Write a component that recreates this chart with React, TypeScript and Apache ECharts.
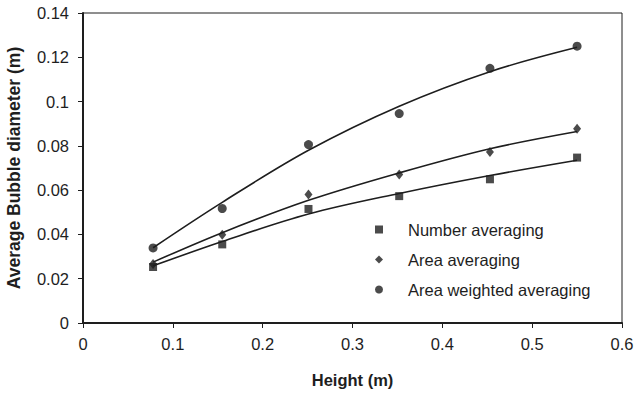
import React, { useEffect, useRef } from "react";
import * as echarts from "echarts";

const heights = [0.078, 0.155, 0.251, 0.352, 0.453, 0.55];
const numberAvg = [0.0253, 0.0355, 0.0515, 0.0573, 0.0649, 0.0747];
const areaAvg = [0.0266, 0.0399, 0.058, 0.0671, 0.0772, 0.0877];
const areaWeightedAvg = [0.0339, 0.0517, 0.0806, 0.0946, 0.115, 0.125];

// trend curves
const numberTrend = [0.0258, 0.0368, 0.0492, 0.0585, 0.0666, 0.0735];
const areaTrend = [0.0275, 0.0408, 0.0554, 0.0678, 0.0787, 0.0865];
const weightedTrend = [0.034, 0.0545, 0.078, 0.0979, 0.1135, 0.1245];

const xTicks = [0, 0.1, 0.2, 0.3, 0.4, 0.5, 0.6];
const yTicks = [0, 0.02, 0.04, 0.06, 0.08, 0.1, 0.12, 0.14];

const seriesNames = ["Number averaging", "Area averaging", "Area weighted averaging"];

const pairs = (xs: number[], ys: number[]) => xs.map((x, i) => [x, ys[i]]);

const FONT = "Liberation Sans, Arial, sans-serif";
const INK = "#1e1e1e";

export default function App() {
  const ref = useRef<HTMLDivElement>(null);
  useEffect(() => {
    if (!ref.current) return;
    const chart = echarts.init(ref.current, undefined, { renderer: "svg" });
    const lineStyle = { color: INK, width: 1.6 };
    const trend = (ys: number[]) => ({
      type: "line",
      data: pairs(heights, ys),
      smooth: 0.35,
      showSymbol: false,
      symbol: "none",
      lineStyle,
      silent: true,
      z: 2,
    });
    chart.setOption({
      animation: false,
      backgroundColor: "#fff",
      textStyle: { fontFamily: FONT },
      grid: {
        left: 83,
        right: 13,
        top: 13,
        bottom: 72,
        show: true,
        borderColor: INK,
        borderWidth: 1,
        containLabel: false,
        outerBoundsMode: "none",
      },
      legend: {
        orient: "vertical",
        left: 370,
        top: 216,
        itemWidth: 8,
        itemHeight: 8,
        itemGap: 13,
        textStyle: { fontFamily: FONT, fontSize: 16.5, color: INK, padding: [0, 0, 0, 20] },
        data: [
          { name: seriesNames[0], icon: "rect" },
          { name: seriesNames[1], icon: "diamond" },
          { name: seriesNames[2], icon: "circle" },
        ],
      },
      xAxis: {
        type: "value",
        min: xTicks[0],
        max: xTicks[xTicks.length - 1],
        interval: 0.1,
        name: "Height (m)",
        nameLocation: "middle",
        nameGap: 48,
        nameTextStyle: { fontFamily: FONT, fontSize: 16.5, fontWeight: "bold", color: INK },
        axisLine: { show: true, onZero: false, lineStyle: { color: INK, width: 2 } },
        axisTick: { show: true, inside: false, length: 5, lineStyle: { color: INK, width: 1 } },
        axisLabel: {
          fontFamily: FONT,
          fontSize: 16.5,
          color: INK,
          margin: 12,
          formatter: (v: number) => {
            const t = xTicks.find((x) => Math.abs(x - v) < 1e-9);
            return t === undefined ? "" : String(t);
          },
        },
        splitLine: { show: false },
      },
      yAxis: {
        type: "value",
        min: yTicks[0],
        max: yTicks[yTicks.length - 1],
        interval: 0.02,
        name: "Average Bubble diameter (m)",
        nameLocation: "middle",
        nameGap: 60,
        nameTextStyle: { fontFamily: FONT, fontSize: 17.5, fontWeight: "bold", color: INK },
        axisLine: { show: true, onZero: false, lineStyle: { color: INK, width: 2 } },
        axisTick: { show: true, inside: false, length: 5, lineStyle: { color: INK, width: 1 } },
        axisLabel: {
          fontFamily: FONT,
          fontSize: 16.5,
          color: INK,
          margin: 14,
          formatter: (v: number) => {
            const t = yTicks.find((y) => Math.abs(y - v) < 1e-9);
            return t === undefined ? "" : String(t);
          },
        },
        splitLine: { show: false },
      },
      series: [
        trend(numberTrend),
        trend(areaTrend),
        trend(weightedTrend),
        {
          name: seriesNames[0],
          type: "scatter",
          symbol: "rect",
          symbolSize: 8,
          data: pairs(heights, numberAvg),
          itemStyle: { color: INK },
          z: 3,
        },
        {
          name: seriesNames[1],
          type: "scatter",
          symbol: "diamond",
          symbolSize: [8, 10],
          data: pairs(heights, areaAvg),
          itemStyle: { color: INK },
          z: 3,
        },
        {
          name: seriesNames[2],
          type: "scatter",
          symbol: "circle",
          symbolSize: 9,
          data: pairs(heights, areaWeightedAvg),
          itemStyle: { color: INK },
          z: 3,
        },
      ],
    });
    return () => chart.dispose();
  }, []);
  return (
    <div
      ref={ref}
      style={{ position: "fixed", left: 0, top: 0, width: 635, height: 395, background: "#fff" }}
    />
  );
}
